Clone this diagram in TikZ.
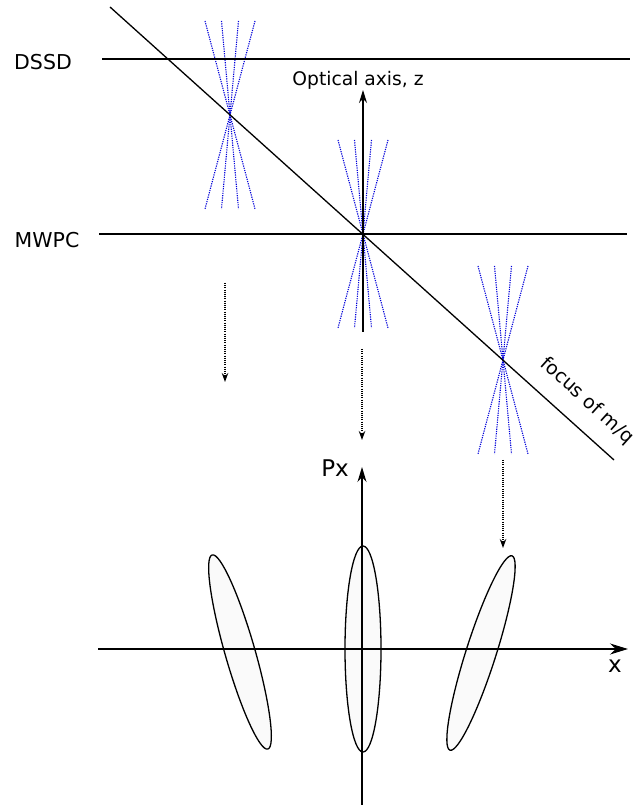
\documentclass[tikz,border=0pt]{standalone}
\usepackage{fontspec}
\setmainfont{DejaVu Sans}
\usetikzlibrary{arrows.meta}
\begin{document}
\begin{tikzpicture}[x=1pt,y=1pt,
  solidline/.style={line width=1.3pt},
  beam/.style={blue!85!black, dash pattern=on 1.2pt off 1.1pt, line width=1.1pt},
  proj/.style={dash pattern=on 1.1pt off 1.1pt, line width=1.1pt, -{Stealth[length=9pt,width=6.5pt]}},
  lbl/.style={font=\fontsize{20.5}{23}\selectfont, inner sep=0pt},
  phase/.style={line width=1.3pt, fill=black!2},
]
\useasboundingbox (0,0) rectangle (637,809);

% beam bundles
\foreach \cx/\cy in {230/694, 363/575, 503/449}{
  \foreach \d in {25,8.5}{
    \draw[beam] (\cx-\d,\cy+94) -- (\cx+\d,\cy-94);
    \draw[beam] (\cx+\d,\cy+94) -- (\cx-\d,\cy-94);
  }
}

% detector planes
\coordinate (dssdL) at (102,750);
\coordinate (dssdR) at (630,750);
\coordinate (mwpcL) at (99,575);
\coordinate (mwpcR) at (627,575);
\draw[solidline] (dssdL) -- (dssdR);
\draw[solidline] (mwpcL) -- (mwpcR);
\node[lbl] (dssd) at (43,747) {DSSD};
\node[lbl] (mwpc) at (47,569) {MWPC};

% focal plane
\coordinate (fA) at (110,802);
\coordinate (fB) at (614,349);
\draw[solidline] (fA) -- (fB);
\node[lbl, font=\fontsize{19}{22}\selectfont, rotate=-42] (focus) at (587,408) {focus of m/q};

% optical axis
\coordinate (oa0) at (363,477);
\coordinate (oa1) at (363,719);
\draw[solidline, -{Stealth[length=13pt,width=8pt]}] (oa0) -- (oa1);
\node[lbl, font=\fontsize{18.7}{22}\selectfont] (oatext) at (358,729) {Optical axis, z};

% projection arrows
\coordinate (p1a) at (225,526); \coordinate (p1b) at (225,427);
\coordinate (p2a) at (362,460); \coordinate (p2b) at (362,369);
\coordinate (p3a) at (503,349); \coordinate (p3b) at (503,261);
\draw[proj] (p1a) -- (p1b);
\draw[proj] (p2a) -- (p2b);
\draw[proj] (p3a) -- (p3b);

% phase-space ellipses
\draw[phase, rotate around={16:(240,157)}] (240,157) ellipse [x radius=15, y radius=101];
\draw[phase] (363,160) ellipse [x radius=18, y radius=103];
\draw[phase, rotate around={-17.7:(481,156)}] (481,156) ellipse [x radius=15, y radius=102];

% axes
\coordinate (xa0) at (98,160);
\coordinate (xa1) at (628,160);
\coordinate (pa0) at (362,4);
\coordinate (pa1) at (362,342);
\draw[line width=1.2pt, -{Stealth[length=18pt,width=11pt]}] (xa0) -- (xa1);
\draw[line width=1.2pt, -{Stealth[length=15pt,width=9pt]}] (pa0) -- (pa1);
\node[lbl, font=\fontsize{23}{25}\selectfont, anchor=base] (pxlabel) at (335,332) {Px};
\node[lbl, font=\fontsize{23}{25}\selectfont, anchor=base] (xlabel) at (615,136) {x};
\end{tikzpicture}
\end{document}
